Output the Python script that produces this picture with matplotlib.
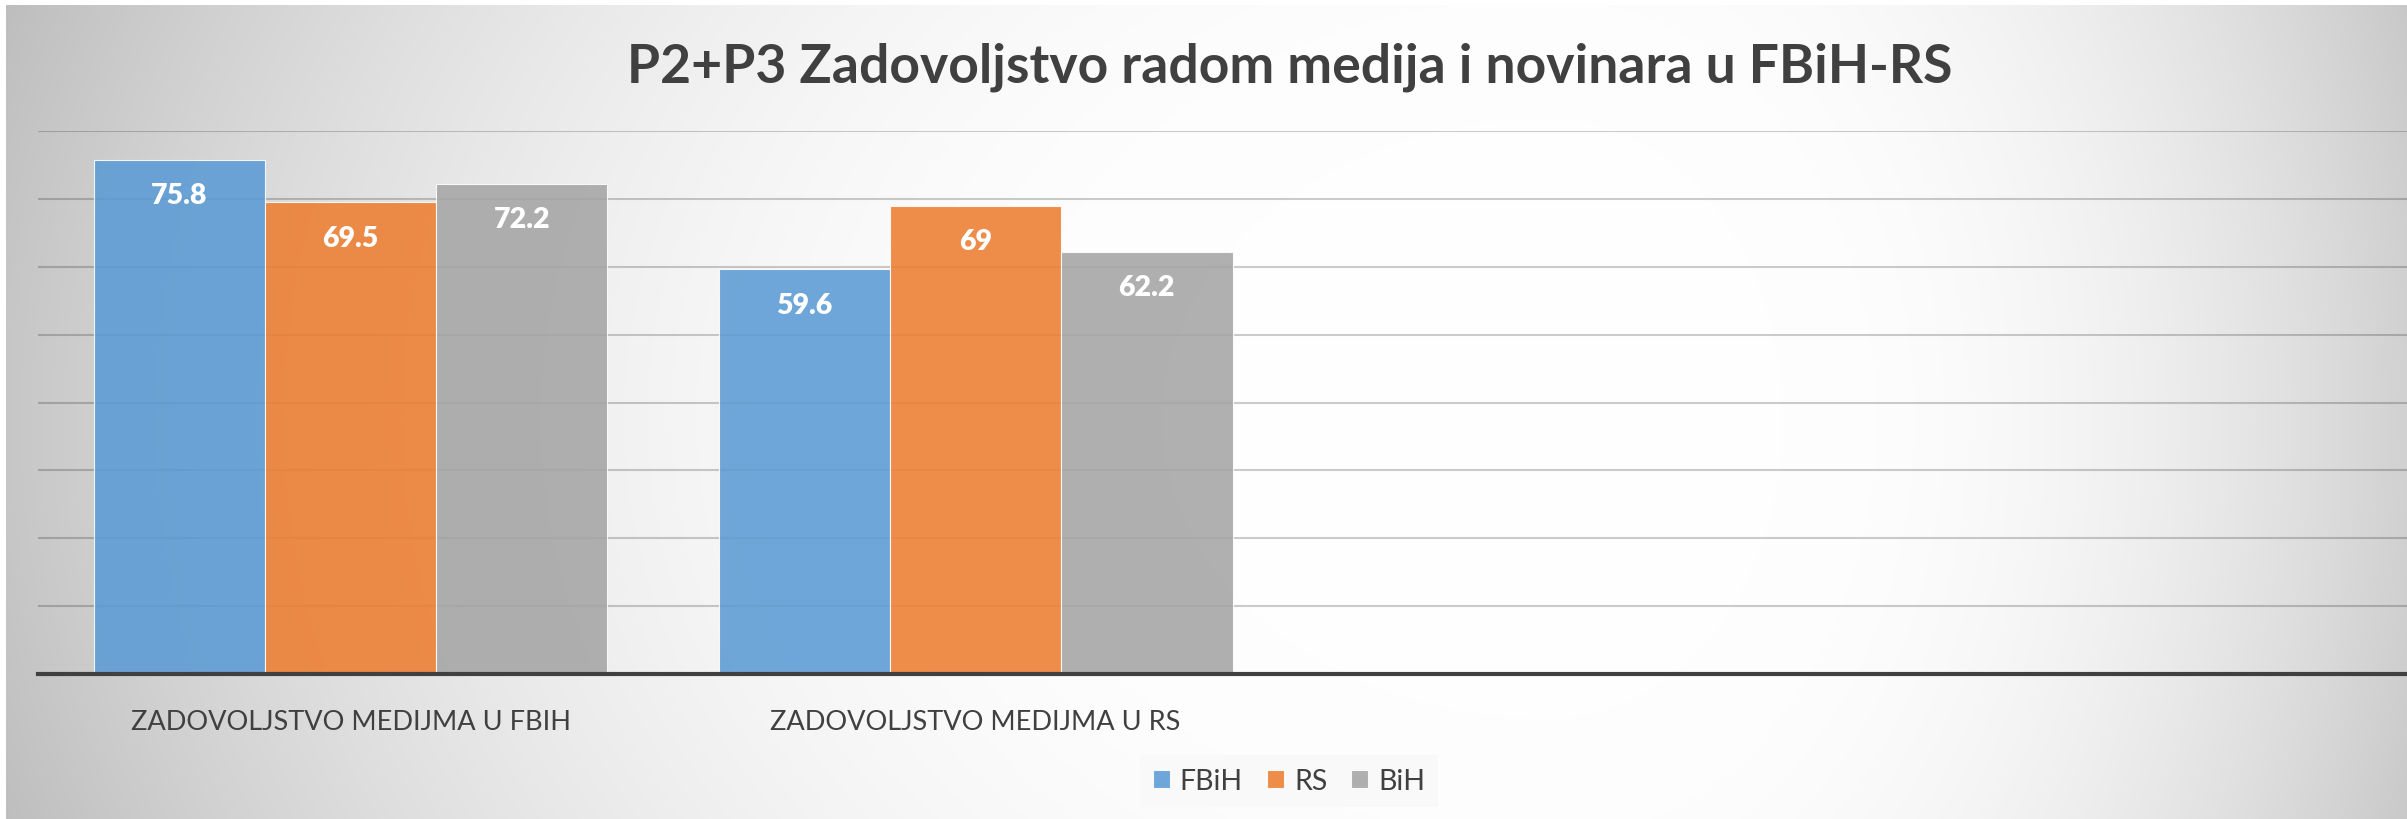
import numpy as np
import matplotlib
matplotlib.use("Agg")
import matplotlib.pyplot as plt
from matplotlib.patches import Patch

# ---- data ----
categories = ["ZADOVOLJSTVO MEDIJMA U FBIH", "ZADOVOLJSTVO MEDIJMA U RS"]
series_names = ["FBiH", "RS", "BiH"]
fbih_values = [75.8, 59.6]
rs_values = [69.5, 69]
bih_values = [72.2, 62.2]
title_text = "P2+P3 Zadovoljstvo radom medija i novinara u FBiH-RS"

series_values = [fbih_values, rs_values, bih_values]
colors = ["#5B9BD5", "#ED7D31", "#A5A5A5"]

W, H, DPI = 2407, 820, 100
fig = plt.figure(figsize=(W / DPI, H / DPI), dpi=DPI, facecolor="white")

FONT = ["Lato", "DejaVu Sans"]
TXT = "#404040"

# ---- background gradient (chart area style) ----
bx0, by0 = 6, 6
gw, gh = W - bx0, H - by0
xs = np.arange(bx0, W) + 0.5
ys = np.arange(by0, H) + 0.5
X, Y = np.meshgrid(xs, ys)
cx, cy = 1550.0, 420.0
sx = np.where(X < cx, 1550.0, 930.0)
sy = 1200.0
r = np.sqrt(((X - cx) / sx) ** 2 + ((Y - cy) / sy) ** 2)
t = np.clip((r - 0.25) / 0.75, 0, 1.15)
L = (254 - 56 * t ** 2) / 255.0
L = np.clip(L, 0.72, 1.0)
img = np.dstack([L, L, L])
bg = fig.add_axes([bx0 / W, 0, gw / W, gh / H], zorder=-10)
bg.imshow(img, aspect="auto", interpolation="bilinear")
bg.axis("off")

# ---- main axes ----
left_px, right_px = 38, W
top_px, bottom_px = 132, 675
ax = fig.add_axes([left_px / W, 1 - bottom_px / H,
                   (right_px - left_px) / W, (bottom_px - top_px) / H])
ax.set_facecolor("none")
ax.set_xlim(-0.5, 3.29)
ax.set_ylim(0, 80)
ax.set_yticks(np.arange(10, 81, 10))
ax.yaxis.grid(True, color="black", alpha=0.2, linewidth=1.5)
ax.set_axisbelow(True)
ax.tick_params(axis="both", length=0, labelleft=False, labelbottom=False)
for s in ["left", "right", "top"]:
    ax.spines[s].set_visible(False)
ax.spines["bottom"].set_color("#404040")
ax.spines["bottom"].set_linewidth(3)
ax.spines["bottom"].set_zorder(5)

x = np.arange(len(categories))
bw = 0.274
offsets = [-bw, 0, bw]
for vals, col, off, name in zip(series_values, colors, offsets, series_names):
    ax.bar(x + off, vals, width=bw, color=col, alpha=0.88,
           edgecolor=(1, 1, 1, 0.55), linewidth=0.8, label=name, zorder=3)
    for xi, v in zip(x + off, vals):
        ax.annotate(f"{v:g}", xy=(xi, v), xytext=(0, -43.5),
                    textcoords="offset pixels", ha="center", va="baseline",
                    color="white", fontsize=20.5, fontweight="heavy",
                    family=FONT, zorder=6)

for xi, lab in zip(x, categories):
    ax.annotate(lab, xy=(xi, 0), xycoords=("data", "axes fraction"),
                xytext=(0, -55), textcoords="offset pixels",
                ha="center", va="baseline", color=TXT, fontsize=19.5,
                family=FONT, annotation_clip=False)

# ---- title ----
fig.text(1290 / W, 1 - 83 / H, title_text, ha="center", va="baseline",
         fontsize=38.5, fontweight="bold", color=TXT, family=FONT)

# ---- legend ----
handles = [Patch(facecolor=c, alpha=0.88, edgecolor=(1, 1, 1, 0.55), linewidth=0.8)
           for c in colors]
leg = fig.legend(handles, series_names, loc="center",
                 bbox_to_anchor=(1289 / W, 1 - 782 / H), ncol=3,
                 frameon=True, fancybox=False, framealpha=0.85,
                 facecolor="#f9f9f9", edgecolor="none",
                 prop={"family": FONT, "size": 20.5},
                 handlelength=0.6, handleheight=0.6, handletextpad=0.35,
                 columnspacing=0.85, borderpad=0.45)
for t_ in leg.get_texts():
    t_.set_color(TXT)

fig.savefig("out.png", dpi=DPI, facecolor="white")
